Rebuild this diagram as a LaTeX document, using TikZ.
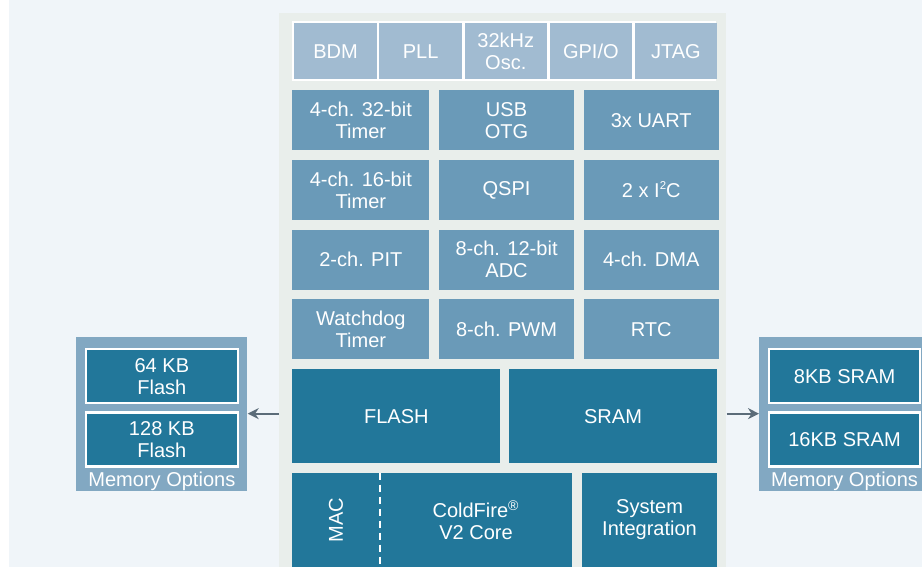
\documentclass[tikz,border=0pt]{standalone}
\usepackage{fontspec}
\setmainfont{Liberation Sans}
\usetikzlibrary{positioning}
\usetikzlibrary{calc}
\usetikzlibrary{arrows.meta}

\definecolor{pagebg}{HTML}{F0F5F9}
\definecolor{chipbg}{HTML}{E9EEEB}
\definecolor{lightblk}{HTML}{A1BBD1}
\definecolor{midblk}{HTML}{6A9AB8}
\definecolor{darkblk}{HTML}{22779A}
\definecolor{memblk}{HTML}{82A8C2}
\definecolor{arrgrey}{HTML}{5B6C79}

\begin{document}
\begin{tikzpicture}[
	font=\fontsize{11.4}{12.5}\selectfont,
	blk/.style={rectangle, inner sep=0pt, text=white, align=center, minimum height=1.2cm},
	cell/.style={blk, fill=lightblk, minimum width=1.648cm, minimum height=1.12cm},
	perib/.style={blk, fill=midblk, minimum width=2.7cm},
	coreb/.style={blk, fill=darkblk, minimum height=1.88cm},
	memb/.style={blk, fill=darkblk, draw=white, line width=1.2pt, minimum width=3.04cm, minimum height=1.08cm, anchor=north},
	memout/.style={rectangle, fill=memblk, minimum width=3.42cm, minimum height=3.08cm, anchor=south west},
	arr/.style={-{Stealth[length=2.2mm, width=2.2mm]}, draw=arrgrey, line width=1pt},
	]

	% page
	\useasboundingbox (0,0) rectangle (18.44,11.34);
	\fill[white] (0,0) rectangle (18.44,11.34);
	\fill[pagebg] (0.18,0) rectangle (18.44,11.34);

	\node[rectangle, fill=chipbg, minimum width=8.94cm, minimum height=11.08cm, anchor=south west] (chip) at (5.58,0) {};

	% clock and debug row
	\node[rectangle, fill=white, minimum width=8.48cm, minimum height=1.2cm, anchor=north west] (dbgrow) at (5.84,10.92) {};
	\node[cell, anchor=north west] (bdm) at ([xshift=0.04cm, yshift=-0.04cm] dbgrow.north west) {BDM};
	\node[cell, right=0.04cm of bdm] (pll) {PLL};
	\node[cell, right=0.04cm of pll] (osc) {32kHz\\Osc.};
	\node[cell, right=0.04cm of osc] (gpio) {GPI/O};
	\node[cell, right=0.04cm of gpio] (jtag) {JTAG};

	% peripherals
	\node[perib, minimum width=2.74cm, anchor=north west] (tmr32) at (5.84,9.54) {4-ch. 32-bit\\Timer};
	\node[perib, right=0.18cm of tmr32] (usb) {USB\\OTG};
	\node[perib, right=0.18cm of usb] (uart) {3x UART};

	\node[perib, minimum width=2.74cm, below=0.18cm of tmr32] (tmr16) {4-ch. 16-bit\\Timer};
	\node[perib, below=0.18cm of usb] (qspi) {QSPI};
	\node[perib, below=0.18cm of uart] (iic) {2 x I\raisebox{0.75ex}{\fontsize{6.5}{7}\selectfont 2}C};

	\node[perib, minimum width=2.74cm, below=0.18cm of tmr16] (pit) {2-ch. PIT};
	\node[perib, below=0.18cm of qspi] (adc) {8-ch. 12-bit\\ADC};
	\node[perib, below=0.18cm of iic] (dma) {4-ch. DMA};

	\node[perib, minimum width=2.74cm, below=0.18cm of pit] (wdt) {Watchdog\\Timer};
	\node[perib, below=0.18cm of adc] (pwm) {8-ch. PWM};
	\node[perib, below=0.18cm of dma] (rtc) {RTC};

	% memories and core
	\node[coreb, minimum width=4.16cm, anchor=north west] (flash) at ([yshift=-0.18cm] wdt.south west) {FLASH};
	\node[coreb, minimum width=4.16cm, right=0.16cm of flash] (sram) {SRAM};

	\node[coreb, minimum width=5.6cm, anchor=north west] (core) at ([yshift=-0.18cm] flash.south west) {};
	\node[coreb, minimum width=2.7cm, right=0.18cm of core] (sysint) {System\\Integration};
	\draw[white, line width=1.1pt, dash pattern=on 0.14cm off 0.1cm]
		([xshift=1.76cm] core.north west) -- ([xshift=1.76cm] core.south west);
	\node[text=white, rotate=90] (mac) at ([xshift=0.88cm] core.west) {MAC};
	\node[text=white, align=center] (cf) at ([xshift=3.68cm] core.west) {ColdFire\textsuperscript{\textregistered}\\V2 Core};

	% memory options
	\node[memout] (memL) at (1.52,1.52) {};
	\node[memb] (fl64) at ([yshift=-0.24cm] memL.north) {64 KB\\Flash};
	\node[memb, below=0.14cm of fl64] (fl128) {128 KB\\Flash};
	\node[text=white] at ([yshift=-0.28cm] fl128.south) {Memory Options};

	\node[memout] (memR) at (15.18,1.52) {};
	\node[memb, minimum width=3.02cm, anchor=north west] (sr8) at ([xshift=0.18cm, yshift=-0.24cm] memR.north west) {8KB SRAM};
	\node[memb, minimum width=3.02cm, below=0.14cm of sr8] (sr16) {16KB SRAM};
	\node[text=white] at ([yshift=-0.28cm] sr16.south) {Memory Options};

	\draw[arr] (chip.west |- memL.east) -- (memL.east);
	\draw[arr] (chip.east |- memR.west) -- (memR.west);

\end{tikzpicture}
\end{document}
